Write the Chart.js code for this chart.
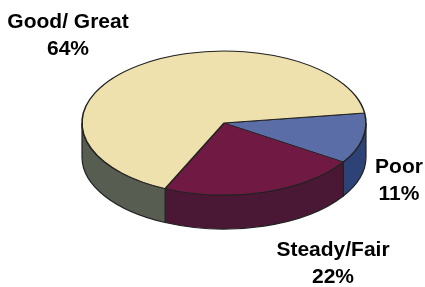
<!DOCTYPE html>
<html>
<head>
<meta charset="utf-8">
<script src="https://cdn.jsdelivr.net/npm/chart.js@4"></script>
<style>
  html, body { margin: 0; padding: 0; background: #ffffff; }
  #wrap { width: 425px; height: 287px; position: relative; }
  canvas { display: block; }
</style>
</head>
<body>
<div id="wrap"><canvas id="c" width="425" height="287"></canvas></div>
<script>
// ---- data ----
const categories = ['Poor', 'Steady/Fair', 'Good/ Great'];
const percentValues = [11, 22, 64];

// ---- styles / layout ----
const topColors  = ['#5b6da6', '#701a43', '#eee1ad'];
const wallColors = ['#2d4377', '#4a1834', '#585d52'];
const outline = '#222222';
const pieLayout = { cx: 224, cy: 123, rx: 142, ry: 72, depth: 34, startDeg: -8 };
const labelLayout = [
  { x: 399, y1: 173, y2: 200 },
  { x: 333, y1: 256, y2: 283 },
  { x: 68,  y1: 28,  y2: 55 }
];
const labelFont = 'bold 21px "Liberation Sans", Arial, sans-serif';

const pie3d = {
  id: 'pie3d',
  beforeDatasetsDraw(chart) {
    const ctx = chart.ctx;
    const meta = chart.getDatasetMeta(0);
    const L = pieLayout;
    // side walls (front half only)
    ctx.save();
    ctx.lineWidth = 1.2;
    ctx.strokeStyle = outline;
    meta.data.forEach((arc, i) => {
      const s = arc.startAngle, e = arc.endAngle;
      for (let k = -2; k <= 2; k++) {
        const lo = Math.max(s, k * 2 * Math.PI);
        const hi = Math.min(e, k * 2 * Math.PI + Math.PI);
        if (hi > lo) {
          ctx.beginPath();
          ctx.ellipse(L.cx, L.cy, L.rx, L.ry, 0, lo, hi, false);
          ctx.ellipse(L.cx, L.cy + L.depth, L.rx, L.ry, 0, hi, lo, true);
          ctx.closePath();
          ctx.fillStyle = wallColors[i];
          ctx.fill();
          ctx.stroke();
        }
      }
    });
    ctx.restore();
    // squash the top face into an ellipse
    const a0 = meta.data[0];
    const r = a0.outerRadius;
    ctx.save();
    ctx.translate(L.cx, L.cy);
    ctx.scale(L.rx / r, L.ry / r);
    ctx.translate(-a0.x, -a0.y);
  },
  afterDatasetsDraw(chart) {
    const ctx = chart.ctx;
    ctx.restore();
    ctx.save();
    ctx.font = labelFont;
    ctx.fillStyle = '#000000';
    ctx.textAlign = 'center';
    ctx.textBaseline = 'alphabetic';
    categories.forEach((name, i) => {
      const p = labelLayout[i];
      ctx.fillText(name, p.x, p.y1);
      ctx.fillText(percentValues[i] + '%', p.x, p.y2);
    });
    ctx.restore();
  }
};

new Chart(document.getElementById('c'), {
  type: 'pie',
  data: {
    labels: categories,
    datasets: [{
      data: percentValues,
      backgroundColor: topColors,
      borderColor: outline,
      borderWidth: 1.6,
      borderAlign: 'center'
    }]
  },
  options: {
    responsive: false,
    animation: false,
    rotation: 90 + pieLayout.startDeg,
    layout: { padding: 2 },
    plugins: {
      legend: { display: false },
      tooltip: { enabled: false }
    },
    events: []
  },
  plugins: [pie3d]
});
</script>
</body>
</html>
